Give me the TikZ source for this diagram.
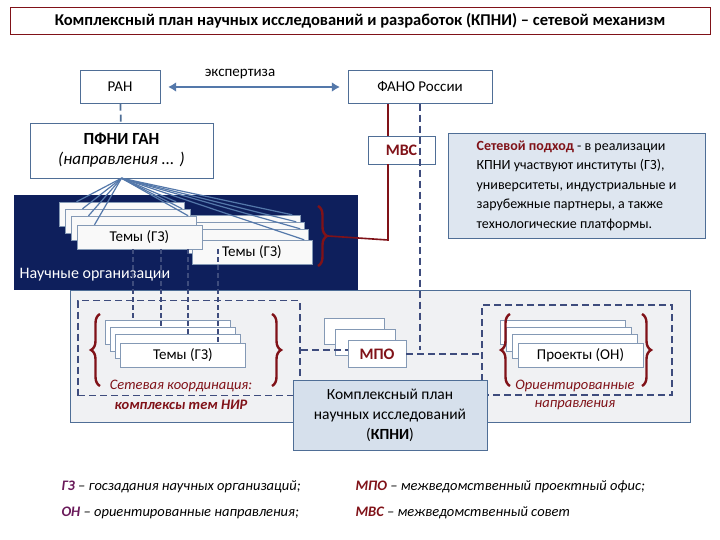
\documentclass[tikz,border=0pt]{standalone}
\usepackage{fontspec}
\setmainfont{Carlito}
\usetikzlibrary{arrows.meta,decorations.pathreplacing,positioning}
\definecolor{navy}{RGB}{14,31,92}
\definecolor{steel}{RGB}{79,110,150}
\definecolor{fanblue}{RGB}{84,120,170}
\definecolor{darkred}{RGB}{128,18,24}
\definecolor{plum}{RGB}{106,26,90}
\definecolor{notefill}{RGB}{222,230,240}
\definecolor{kpnifill}{RGB}{214,224,236}
\definecolor{areafill}{RGB}{240,241,243}
\tikzset{
	box/.style={draw=steel, fill=white, inner sep=0pt},
	card/.style={draw=steel!70, fill=white, minimum width=125pt, minimum height=24pt, inner sep=0pt},
	dashlink/.style={dashed, dash pattern=on 7pt off 4pt, line width=1.8pt, draw=navy!80},
	redbrace/.style={decorate, decoration={brace, amplitude=9pt}, line width=2.4pt, draw=darkred}
}
\begin{document}
\begin{tikzpicture}[x=1pt, y=-1pt, font=\fontsize{15}{17}\selectfont]
	\useasboundingbox (0,0) rectangle (720,540);

	% title
	\node[draw=darkred, minimum width=700pt, minimum height=27pt, font=\fontsize{16.5}{18}\selectfont\bfseries] (title) at (360,21)
		{Комплексный план научных исследований и разработок (КПНИ) -- сетевой механизм};

	% top row
	\node[box, minimum width=80pt, minimum height=33pt] (ran) at (120,87) {РАН};
	\node[box, minimum width=144pt, minimum height=33pt] (fano) at (420,87) {ФАНО России};
	\draw[{Latex[length=8pt,width=10pt]}-{Latex[length=8pt,width=10pt]}, line width=2.4pt, fanblue] ([xshift=8pt]ran.east) -- ([xshift=-8pt]fano.west);
	\node (expert) at (240,74) {экспертиза};

	\node[box, minimum width=183pt, minimum height=55pt, align=center, font=\fontsize{17}{20}\selectfont] (pfni) at (121.5,150.5)
		{\textbf{ПФНИ ГАН}\\\textit{(направления ... )}};
	\draw[dashlink, draw=steel] (ran) -- (pfni);

	\node[box, minimum width=67pt, minimum height=28pt, text=darkred, font=\fontsize{16}{18}\selectfont\bfseries] (mvs) at (401.5,150) {МВС};

	% note
	\node[draw=steel, fill=notefill, minimum width=257pt, minimum height=105pt, align=left, font=\fontsize{14}{19.5}\selectfont] (note) at (576.5,185.5)
		{\textcolor{darkred}{\textbf{Сетевой подход}} - в реализации\\КПНИ участвуют институты (ГЗ),\\университеты, индустриальные и\\зарубежные партнеры, а также\\технологические платформы.};

	% lower area
	\node[draw=steel, fill=areafill, minimum width=620pt, minimum height=132pt] (area) at (380,356) {};
	\node[draw=navy!80, dashed, dash pattern=on 7pt off 4pt, line width=1.6pt, minimum width=222pt, minimum height=95pt] (leftzone) at (189,348) {};
	\node[draw=navy!80, dashed, dash pattern=on 7pt off 4pt, line width=1.6pt, minimum width=190pt, minimum height=90pt] (rightzone) at (577,350) {};

	% organisations band
	\node[fill=navy, minimum width=344pt, minimum height=95pt] (orgs) at (186,242.5) {};
	\node[text=white, font=\fontsize{16}{18}\selectfont, anchor=west] (orglabel) at (16,275) {Научные организации};

	% right stack of topics
	\foreach \x/\y [count=\i] in {240/227, 244/234, 248/241} {
		\node[card, fill=white!95!gray, minimum width=120pt] (r\i) at (\x,\y) {};
	}
	\node[card, fill=white!95!gray, minimum width=120pt] (r4) at (252,252) {Темы (ГЗ)};
	% left stack of topics
	\foreach \x/\y [count=\i] in {121.5/214, 127.5/221, 133.5/228} {
		\node[card, fill=white!95!gray] (l\i) at (\x,\y) {};
	}
	\node[card, fill=white!95!gray] (l4) at (139.5,237) {Темы (ГЗ)};

	% fan of lines
	\foreach \t in {l1,l2,l3,l4} \draw[fanblue, line width=1.2pt] (pfni.south) -- ([xshift=-45pt]\t.north);
	\foreach \t in {l1,l2,l3,r1,r2,r3,r4} \draw[fanblue, line width=1.2pt] (pfni.south) -- ([xshift=-8pt]\t.north east);

	% red brace and МВС link
	\draw[redbrace] (318,206) -- (318,266) coordinate[midway, xshift=10pt] (btip);
	\coordinate (bend) at (388,240);
	\draw[darkred, line width=1.6pt] (btip) -- (bend) -- (mvs.south -| bend);
	\draw[darkred, line width=1.6pt] (fano.south -| bend) -- (mvs.north -| bend);

	% lower left stack
	\foreach \x/\y [count=\i] in {167.5/332, 172.5/339, 177.5/346} {
		\node[card] (ll\i) at (\x,\y) {};
	}
	\node[card] (ll4) at (183,355) {Темы (ГЗ)};
	\foreach \xx/\t in {133/ll1, 161/ll2, 188/ll3, 218/ll4} \draw[dashlink, line width=1.4pt, dash pattern=on 5pt off 3pt] (\xx,249) -- (\xx,0 |- \t.north);
	\draw[redbrace] (100,386) -- (100,314);
	\draw[redbrace] (272,314) -- (272,386);
	\node[text=darkred, font=\fontsize{14.5}{16}\selectfont\itshape] (netc) at (181,386) {Сетевая координация:};
	\node[text=darkred, font=\fontsize{14.5}{16}\selectfont\bfseries\itshape] (cplx) at (181,405) {комплексы тем НИР};

	% МПО
	\node[box, draw=steel!70, minimum width=60pt, minimum height=26pt] (mpo1) at (354,331) {};
	\node[box, draw=steel!70, minimum width=60pt, minimum height=26pt] (mpo2) at (365,342) {};
	\node[box, draw=steel!70, minimum width=58pt, minimum height=27pt, text=darkred, font=\fontsize{16}{18}\selectfont\bfseries] (mpo) at (377,354) {МПО};
	\draw[dashlink] (420,0 |- fano.south) -- (420,350);
	\draw[dashlink] (leftzone.east |- 0,350) -- (mpo.west |- 0,350);
	\draw[dashlink] (mpo.east) -- (rightzone.west |- mpo.east);

	% КПНИ
	\node[draw=steel, fill=kpnifill, minimum width=194pt, minimum height=70pt, align=center, font=\fontsize{15.5}{20}\selectfont] (kpni) at (390,415)
		{Комплексный план\\научных исследований\\(\textbf{КПНИ})};

	% lower right stack
	\foreach \x/\y [count=\i] in {562.5/332, 568.5/339, 574.5/346} {
		\node[card] (pr\i) at (\x,\y) {};
	}
	\node[card] (pr4) at (580.5,355) {Проекты (ОН)};
	\draw[redbrace] (510,386) -- (510,314);
	\draw[redbrace] (642,314) -- (642,386);
	\node[text=darkred, font=\fontsize{14.5}{16}\selectfont\itshape] (orient) at (575,386) {Ориентированные};
	\node[text=darkred, font=\fontsize{14.5}{16}\selectfont\itshape] (napr) at (575,405) {направления};

	% legend
	\begin{scope}[font=\fontsize{14.5}{17}\selectfont\itshape]
		\node[anchor=west] (gz) at (58,487) {\textcolor{plum}{\textbf{ГЗ}} -- госзадания научных организаций;};
		\node[anchor=west] (on) at (58,513) {\textcolor{plum}{\textbf{ОН}} -- ориентированные направления;};
		\node[anchor=west] (mpoleg) at (352,487) {\textcolor{darkred}{\textbf{МПО}} -- межведомственный проектный офис;};
		\node[anchor=west] (mvsleg) at (352,513) {\textcolor{darkred}{\textbf{МВС}} -- межведомственный совет};
	\end{scope}
\end{tikzpicture}
\end{document}
